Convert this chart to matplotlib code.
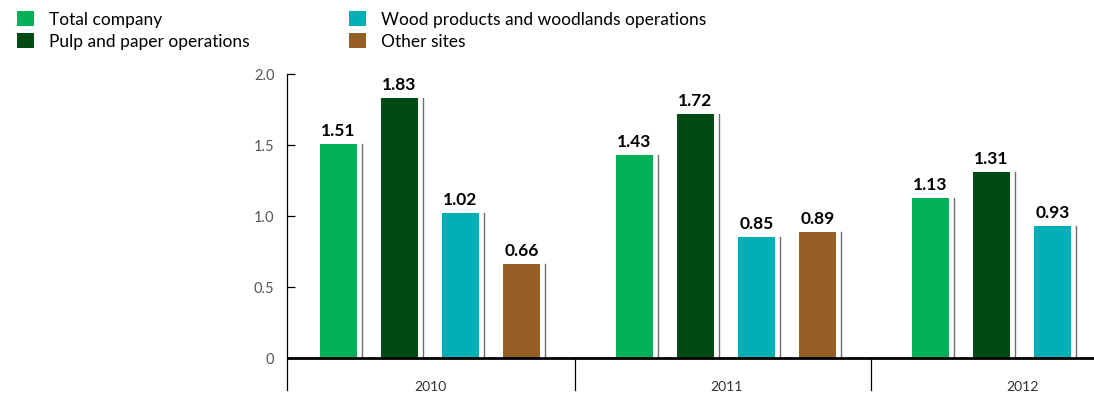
import numpy as np
import matplotlib.pyplot as plt
from matplotlib.patches import Patch

years = ["2010", "2011", "2012"]
series = ["Total company", "Pulp and paper operations",
          "Wood products and woodlands operations", "Other sites"]
total_company = [1.51, 1.43, 1.13]
pulp_paper = [1.83, 1.72, 1.31]
wood_products = [1.02, 0.85, 0.93]
other_sites = [0.66, 0.89, None]
colors = ["#00b159", "#004a15", "#00aeb5", "#945e25"]

plt.rcParams['font.family'] = ['Lato', 'DejaVu Sans']

fig = plt.figure(figsize=(10.94, 3.96), dpi=100)
ax = fig.add_axes([287/1094, 6/396, 807/1094, 316/396])

##bar geometry in "group" units (one group = 296 px)
step = 61/296
width = 37/296
all_values = [total_company, pulp_paper, wood_products, other_sites]
for i, vals in enumerate(all_values):
    for g, v in enumerate(vals):
        if v is None:
            continue
        x0 = g + i*step
        ax.bar(x0, v, width=width, align='edge', color=colors[i], zorder=2)
        ##thin grey shadow line right of the bar
        xs = x0 + width + 5/296
        ax.plot([xs, xs], [0, v], color='#6e6e6e', lw=1, zorder=2)
        ax.text(x0 + width/2, v + 0.035, f"{v:.2f}", ha='center', va='bottom',
                fontsize=12.5, fontweight='bold', color='black')

ax.set_xlim(-33/296, 774/296)
ax.set_ylim(-0.225, 2.0)

##zero line and group separators
ax.axhline(0, color='black', lw=2, zorder=3)
last_end = 3*step + width
for g in range(2):
    sep = g + 0.862
    ax.plot([sep, sep], [0, -0.225], color='black', lw=0.9, clip_on=False)
for g, y in enumerate(years):
    ax.text(g + last_end/2, -0.205, y, ha='center', va='center', fontsize=10, color='#333333')

ax.set_yticks([0, 0.5, 1.0, 1.5, 2.0])
ax.set_yticklabels(["0", "0.5", "1.0", "1.5", "2.0"])
ax.tick_params(axis='y', direction='in', length=6, width=0.9, labelsize=10.5,
               labelcolor='#555555', pad=9)
ax.set_xticks([])
for s in ['top', 'right', 'bottom']:
    ax.spines[s].set_visible(False)
ax.spines['left'].set_linewidth(0.9)

handles = [Patch(facecolor=c, edgecolor='none') for c in colors]
fig.legend(handles, series, loc='upper left', bbox_to_anchor=(0.0, 1.015), ncol=2,
           frameon=False, fontsize=12.5, handlelength=0.95, handleheight=0.95,
           handletextpad=0.9, columnspacing=5.7, labelspacing=0.3, borderpad=0.5)

fig.savefig("out.png", dpi=100)
